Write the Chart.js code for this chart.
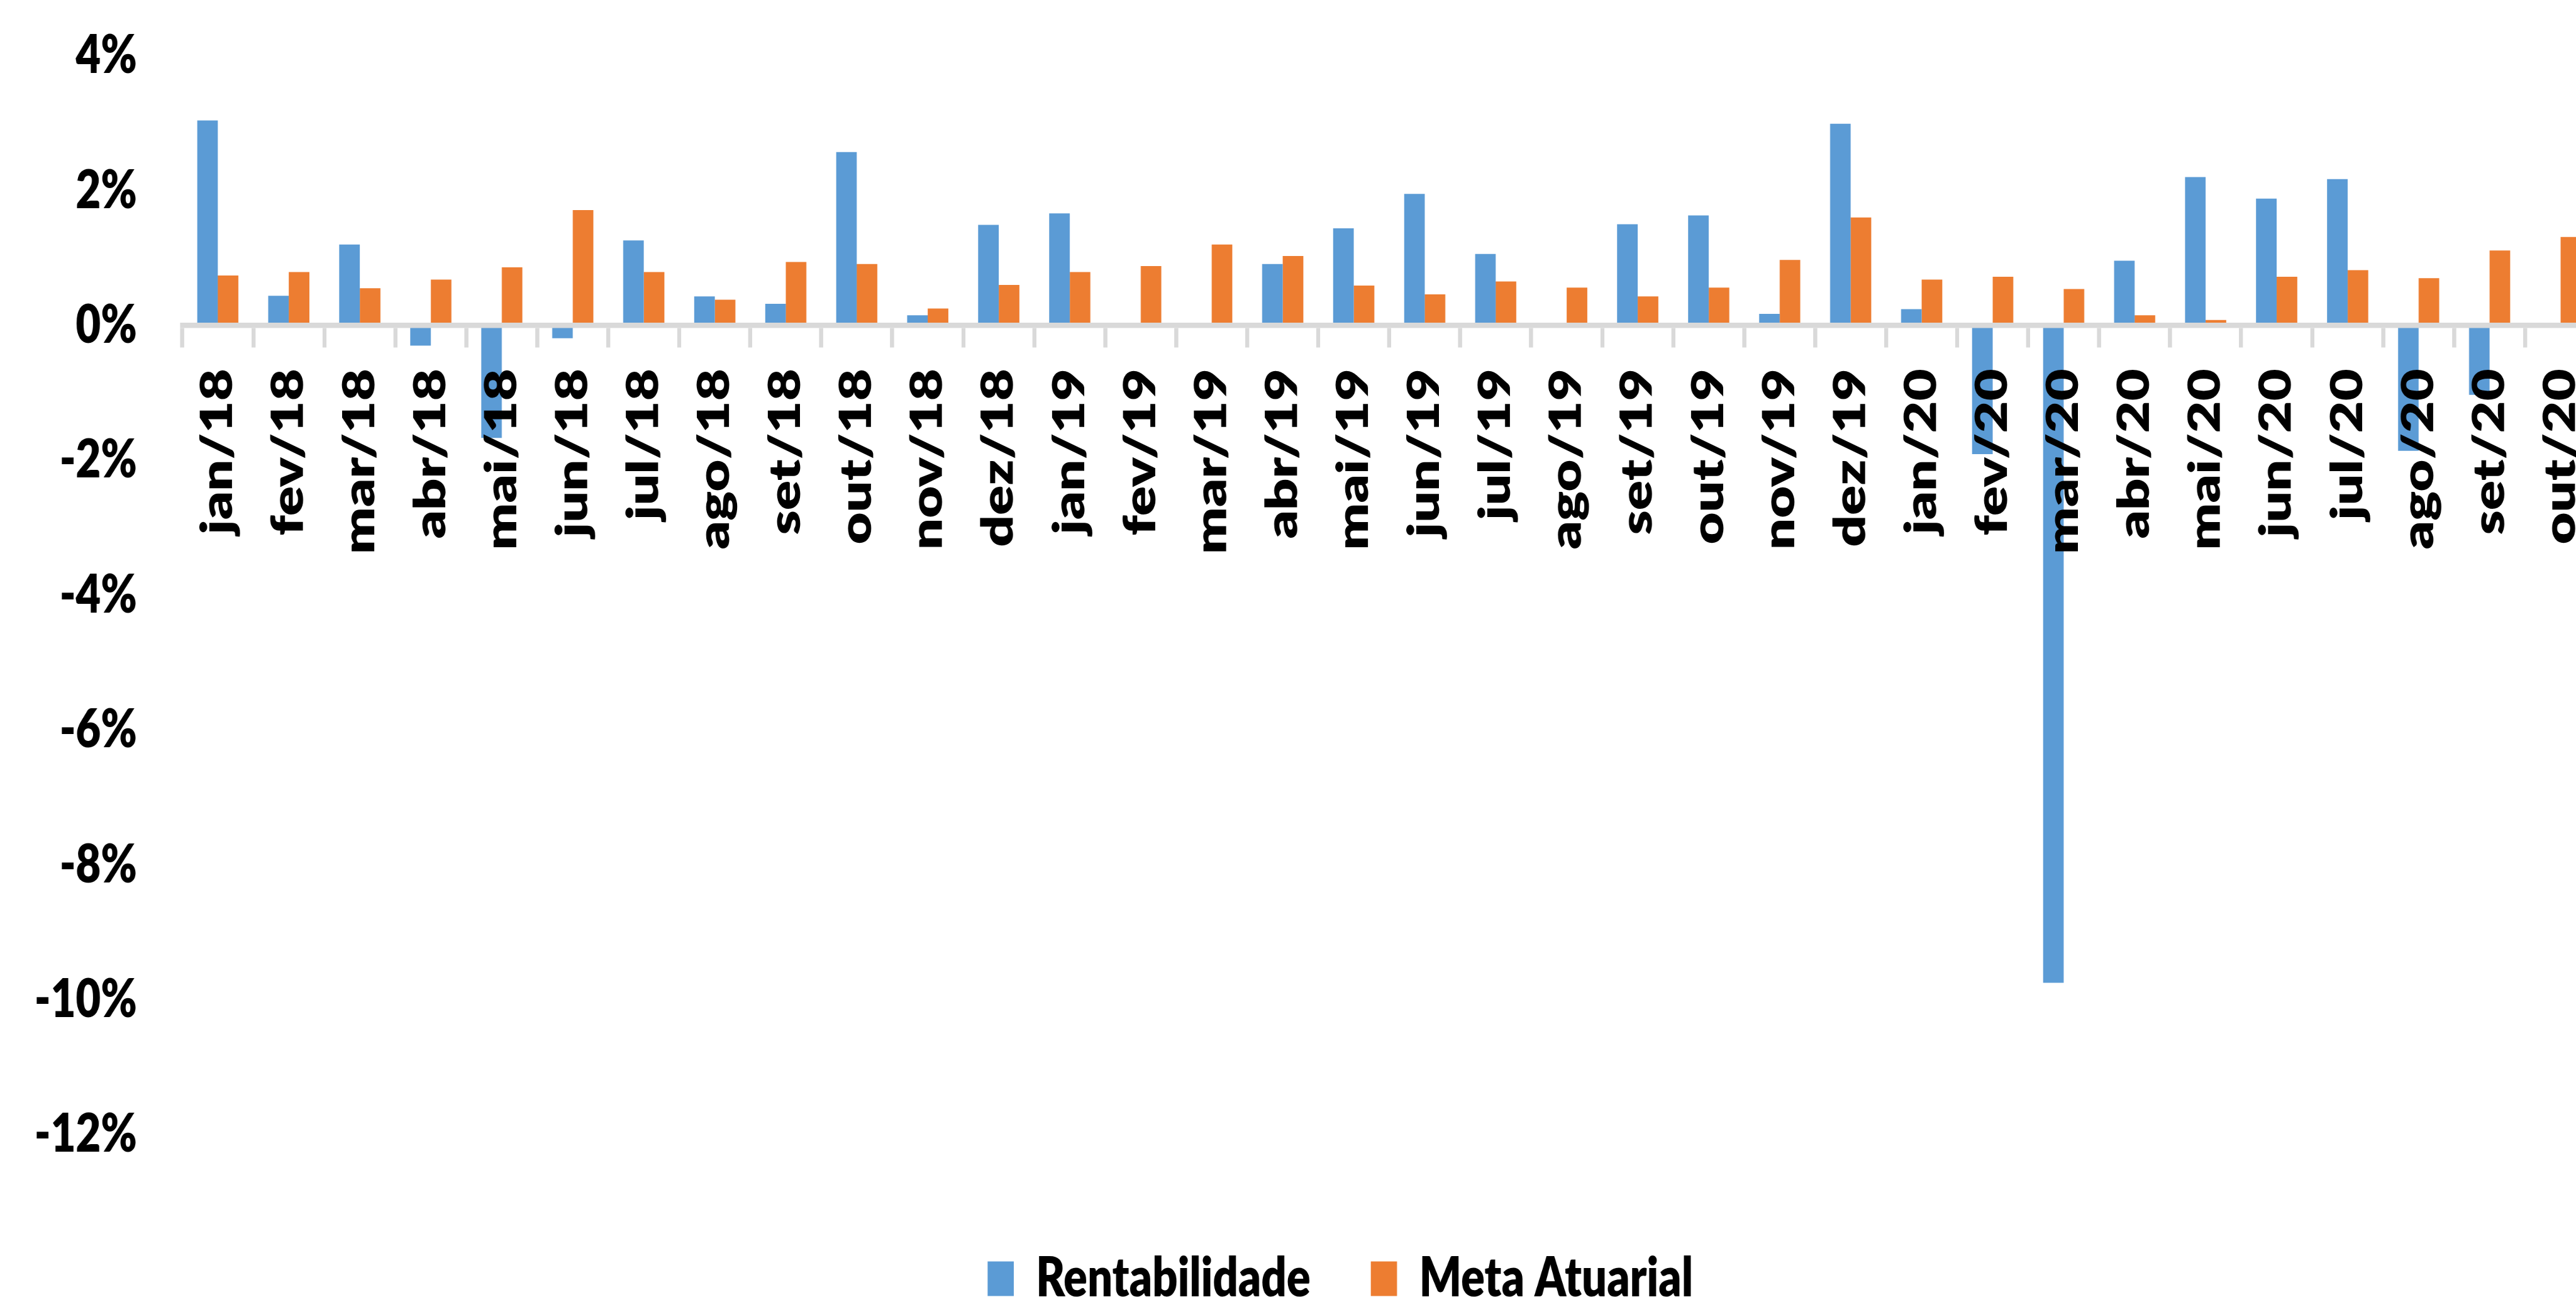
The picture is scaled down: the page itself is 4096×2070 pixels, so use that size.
<!DOCTYPE html>
<html>
<head>
<meta charset="utf-8">
<script src="https://cdn.jsdelivr.net/npm/chart.js"></script>
<style>
  html, body { margin: 0; padding: 0; background: #fff; overflow: hidden; }
  #frame { width: 4096px; height: 2070px; overflow: hidden; position: relative; background: #fff; }
  /* the reference is squeezed sideways, so the whole chart is drawn wide and compressed */
  #squeeze { width: 5240px; transform: scaleX(0.8); transform-origin: 0 0; }
</style>
</head>
<body>
<div id="frame"><div id="squeeze"><canvas id="chart" width="5240" height="2087"></canvas></div></div>
<script>
const months = ['jan/18', 'fev/18', 'mar/18', 'abr/18', 'mai/18', 'jun/18', 'jul/18', 'ago/18', 'set/18', 'out/18', 'nov/18', 'dez/18',
    'jan/19', 'fev/19', 'mar/19', 'abr/19', 'mai/19', 'jun/19', 'jul/19', 'ago/19', 'set/19', 'out/19', 'nov/19', 'dez/19',
    'jan/20', 'fev/20', 'mar/20', 'abr/20', 'mai/20', 'jun/20', 'jul/20', 'ago/20', 'set/20', 'out/20'];

const rentabilidade = [3.04, 0.44, 1.20, -0.30, -1.67, -0.19, 1.26, 0.43, 0.32, 2.57, 0.15, 1.49,
    1.66, 0, 0, 0.91, 1.44, 1.95, 1.06, 0, 1.50, 1.63, 0.17, 2.99,
    0.24, -1.91, -9.75, 0.96, 2.20, 1.88, 2.17, -1.86, -1.03, 0.04];

const metaAtuarial = [0.74, 0.79, 0.55, 0.68, 0.86, 1.71, 0.79, 0.38, 0.94, 0.91, 0.25, 0.60,
    0.79, 0.88, 1.20, 1.03, 0.59, 0.46, 0.65, 0.56, 0.43, 0.56, 0.97, 1.60,
    0.68, 0.72, 0.54, 0.15, 0.08, 0.72, 0.82, 0.70, 1.11, 1.31];

const yTicks = [4, 2, 0, -2, -4, -6, -8, -10, -12];

const fontFamily = 'Lato';
const fontWeight = '800';
const axisGray = '#D9D9D9';

// plot runs from 4% at the top; the legend takes the bottom, so the floor sits a bit under -12%
const plotTop = 88.5;
const pxPerPct = 107.2;
const plotBottom = 1869;
const yMax = 4;
const yMin = yMax - (plotBottom - plotTop) / pxPerPct;

// legend in the reference sits right of the canvas centre
const legendShift = {
    id: 'legendShift',
    afterLayout(chart){
        chart.legend.left += 54;
        chart.legend.right += 54;
    }
};

function draw(){
    let elem = document.getElementById('chart').getContext('2d');

    new Chart(elem, {
        type: 'bar',
        data: {
            labels: months,
            datasets: [{
                label: 'Rentabilidade',
                data: rentabilidade,
                backgroundColor: '#5B9BD5',
                borderWidth: 0
            }, {
                label: 'Meta Atuarial',
                data: metaAtuarial,
                backgroundColor: '#ED7D31',
                borderWidth: 0
            }]
        },
        plugins: [legendShift],
        options: {
            responsive: false,
            animation: false,
            devicePixelRatio: 1,
            categoryPercentage: 0.58,
            barPercentage: 1,
            layout: {
                padding: {left: 60, right: 80, top: plotTop, bottom: 0}
            },
            plugins: {
                tooltip: {enabled: false},
                legend: {
                    position: 'bottom',
                    labels: {
                        boxWidth: 52,
                        boxHeight: 55,
                        padding: 120,
                        color: '#000',
                        font: {family: fontFamily, weight: fontWeight, size: 88}
                    }
                }
            },
            scales: {
                x: {
                    position: {y: 0},
                    grid: {
                        display: true,
                        drawOnChartArea: false,
                        drawTicks: true,
                        tickLength: 31,
                        color: axisGray,
                        lineWidth: 8,
                        offset: true,
                        z: 1
                    },
                    border: {display: true, color: axisGray, width: 8.5, z: 1},
                    ticks: {
                        autoSkip: false,
                        minRotation: 90,
                        maxRotation: 90,
                        padding: 38,
                        color: '#000',
                        z: 1,
                        font: {family: fontFamily, weight: fontWeight, size: 88}
                    },
                    afterFit: (axis) => {
                        axis.paddingLeft = 0;
                        axis.paddingRight = 0;
                    }
                },
                y: {
                    min: yMin,
                    max: yMax,
                    grid: {display: false, drawTicks: false},
                    border: {display: false},
                    ticks: {
                        padding: 90,
                        color: '#000',
                        font: {family: fontFamily, weight: fontWeight, size: 86},
                        callback: (v) => v + '%'
                    },
                    afterBuildTicks: (axis) => {
                        axis.ticks = yTicks.map(v => ({value: v}));
                    },
                    afterFit: (axis) => {
                        axis.width = 302.4;
                        axis.paddingTop = 0;
                        axis.paddingBottom = 0;
                    }
                }
            }
        }
    });
}

if (document.fonts && document.fonts.load) {
    document.fonts.load('800 88px Lato').then(draw, draw);
} else {
    draw();
}
</script>
</body>
</html>
